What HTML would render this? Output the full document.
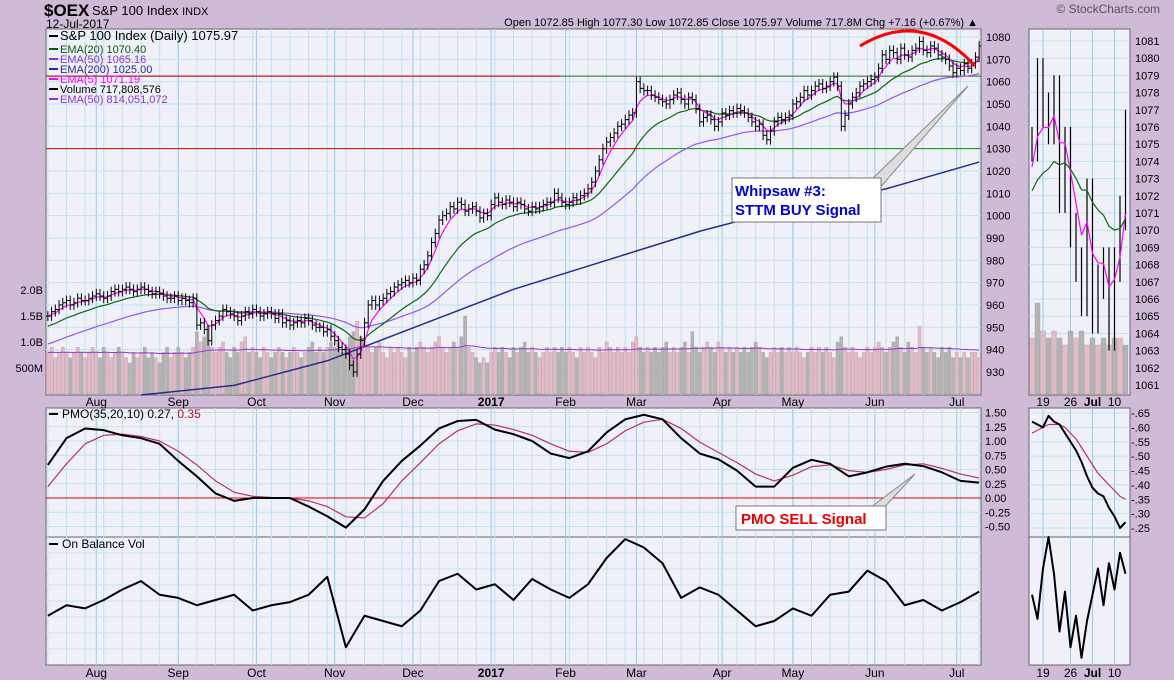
<!DOCTYPE html>
<html><head><meta charset="utf-8"><style>
body{margin:0;background:#cfbad8;font-family:"Liberation Sans",sans-serif}
svg{display:block}
text{font-family:"Liberation Sans",sans-serif}
</style></head><body>
<svg id="c" width="1174" height="680" xmlns="http://www.w3.org/2000/svg">
<rect width="1174" height="680" fill="#cfbad8"/>
<text x="44" y="16" font-size="17" font-weight="bold" fill="#000">$OEX</text>
<text x="92" y="15" font-size="13" fill="#000">S&amp;P 100 Index <tspan font-size="11">INDX</tspan></text>
<text x="46" y="28" font-size="12">12-Jul-2017</text>
<text x="1160" y="13" font-size="12" fill="#555" text-anchor="end">© StockCharts.com</text>
<text x="978" y="26" font-size="11" text-anchor="end">Open 1072.85  High 1077.30  Low 1072.85  Close 1075.97  Volume 717.8M  Chg +7.16 (+0.67%) ▲</text>
<g id="g"></g>
</svg>
<script>
const closes=[955,957,958,960,961,962,960,961,963,962,962,963,964,
965,964,963,964,966,967,966,967,968,967,966,967,968,967,966,965,966,965,964,963,963,964,
962,963,962,961,963,951,952,949,944,951,953,955,958,957,956,955,953,955,957,956,958,
957,955,956,957,956,954,956,952,953,951,952,953,952,954,953,951,950,950,948,949,946,
944,941,940,938,933,930,938,944,952,960,962,960,962,963,965,966,968,969,970,971,970,
972,971,976,978,982,988,992,998,1000,1001,1004,1003,1006,1005,1002,1003,1004,1002,999,1001,1000,
1005,1008,1006,1005,1007,1006,1004,1006,1005,1003,1002,1004,1003,1004,1005,1006,1006,1010,1008,1006,
1005,1006,1008,1007,1009,1010,1012,1015,1020,1025,1030,1033,1035,1037,1040,1041,1043,1045,1046,
1060,1057,1056,1056,1054,1053,1052,1051,1050,1052,1054,1055,1052,1050,1053,1052,1048,1042,1044,1045,1043,1040,1042,
1046,1045,1047,1046,1048,1047,1046,1044,1042,1040,1041,1036,1034,1038,1042,1044,1043,1044,1045,
1050,1051,1053,1056,1054,1056,1058,1059,1057,1058,1060,1062,1058,1040,1045,1050,1053,1055,1058,1059,1060,1061,
1062,1066,1072,1070,1074,1073,1070,1075,1072,1071,1074,1075,1078,1074,1073,1076,1075,1072,1071,1070,1067,1064,
1066,1065,1068,1066,1068,1071,1076];
const volumes=[8,9,7,8,9,8,7,8,9,8,7,8,9,
8,7,9,8,7,8,9,8,7,6,8,7,8,9,7,8,7,6,8,9,7,8,
9,8,7,8,9,12,10,11,13,9,8,9,10,8,7,9,8,10,11,8,9,
8,7,9,8,7,8,9,8,7,8,9,8,7,8,9,10,8,9,8,9,10,
9,10,8,9,11,12,14,11,10,9,8,9,10,8,7,9,8,9,8,7,9,
8,9,10,9,8,9,10,11,9,8,9,10,9,11,15,9,8,7,6,7,6,
8,9,8,9,8,7,9,8,9,10,8,9,8,7,8,9,8,9,8,9,
8,9,8,7,9,8,9,8,7,9,8,10,9,8,9,8,9,8,10,
11,9,8,9,8,9,8,9,10,8,9,8,9,10,8,12,9,8,9,10,9,8,10,
9,8,9,8,9,8,9,8,9,10,9,8,7,8,9,8,9,8,9,
8,9,8,7,8,9,8,9,8,9,8,7,10,11,9,8,9,8,7,8,9,8,
9,10,9,8,9,10,11,9,8,10,9,8,13,9,8,9,8,7,9,8,9,7,
8,7,8,7,8,8,7];
const ema200Idx=[25,50,75,100,125,150,175,200,225,250];
const ema200Vals=[915,924,935,951,967,980,993,1004,1012,1024];
const pmoVals=[0.58,1.05,1.22,1.19,1.1,1.05,0.95,0.65,0.38,0.08,-0.05,0,0,0,-0.15,-0.32,-0.52,-0.2,0.3,0.65,0.92,1.22,1.35,1.37,1.2,1.12,1.0,0.78,0.7,0.82,1.15,1.38,1.46,1.38,1.05,0.78,0.68,0.48,0.2,0.2,0.53,0.67,0.6,0.38,0.45,0.55,0.6,0.56,0.45,0.3,0.27];
const pmoSig=[0.2,0.6,0.95,1.1,1.12,1.08,1.0,0.82,0.58,0.3,0.1,0.03,0.01,0,-0.05,-0.15,-0.33,-0.35,-0.1,0.3,0.62,0.95,1.18,1.3,1.28,1.2,1.1,0.95,0.82,0.8,0.95,1.18,1.33,1.38,1.22,0.98,0.8,0.62,0.42,0.3,0.4,0.55,0.58,0.48,0.45,0.5,0.58,0.6,0.52,0.42,0.35];
const obvVals=[45,55,52,60,70,78,65,62,55,60,65,50,55,58,65,82,15,45,40,35,50,78,85,70,75,60,80,70,62,75,100,118,110,95,62,72,65,50,35,40,52,45,65,68,88,78,55,60,50,58,68];
const monthLabels=["Aug","Sep","Oct","Nov","Dec","2017","Feb","Mar","Apr","May","Jun","Jul"];
const monthStarts=[13,35,56,77,98,119,139,158,181,200,222,244];
const priceTicks=[930,940,950,960,970,980,990,1000,1010,1020,1030,1040,1050,1060,1070,1080];
const volTicks=[["500M",5],["1.0B",10],["1.5B",15],["2.0B",20]];
const pmoTicks=[-0.5,-0.25,0,0.25,0.5,0.75,1,1.25,1.5];
const rCloses=[1075,1079,1077,1076,1078,1072,1075,1070,1068,1066,1072,1065,1067,1068,1064,1068,1071,1076];
const rPmo=[0.62,0.61,0.60,0.64,0.62,0.61,0.58,0.55,0.52,0.48,0.43,0.39,0.37,0.36,0.32,0.29,0.25,0.27];
const rSig=[0.58,0.59,0.60,0.61,0.61,0.61,0.60,0.58,0.56,0.53,0.50,0.47,0.44,0.42,0.40,0.38,0.36,0.35];
const rObv=[65,42,90,120,85,30,68,15,45,5,40,65,90,55,95,70,105,85];
const rPriceTicks=[1061,1062,1063,1064,1065,1066,1067,1068,1069,1070,1071,1072,1073,1074,1075,1076,1077,1078,1079,1080,1081];
const rPmoTicks=[0.25,0.3,0.35,0.4,0.45,0.5,0.55,0.6,0.65];

const NS="http://www.w3.org/2000/svg",G=document.getElementById('g');
function mk(t,a,p){const e=document.createElementNS(NS,t);for(const k in a)e.setAttribute(k,a[k]);(p||G).appendChild(e);return e;}
const L=46,R=981,N=closes.length,step=(R-L)/N;
const X=i=>L+step*(i+0.5);
const PY=p=>37+(1080-p)*2.233;
const VY=v=>394-v*5.2;
const MY=v=>498-v*57;
const OY=v=>663-v*1.05;
const RX=k=>1032+k*5.5;
const RPY=p=>41+(1081-p)*17.2;
const RMY=v=>413+(0.65-v)*287.5;
// panels
const panels=[[L,29,R,395],[L,408,R,537],[L,537,R,665],[1029,29,1130,395],[1029,408,1130,537],[1029,537,1130,665]];
panels.forEach(p=>{const r=mk('rect',{x:p[0],y:p[1],width:p[2]-p[0],height:p[3]-p[1],fill:'#eff0f8',stroke:'#666'});

});
// vertical grid
for(let i=0;i<N;i+=5){[[29,395],[408,537],[537,665]].forEach(b=>{const l=mk('line',{x1:X(i),x2:X(i),y1:b[0],y2:b[1],stroke:'#bfe3ee','stroke-width':1});

});}
monthStarts.forEach((m,j)=>{[[29,395],[408,537],[537,665]].forEach(b=>{const l=mk('line',{x1:X(m),x2:X(m),y1:b[0],y2:b[1],stroke:'#8fd0e6','stroke-width':1});

});
const t=mk('text',{x:X(m),y:406,'font-size':12,'text-anchor':'middle','font-weight':monthLabels[j]=="2017"?'bold':'normal'});t.textContent=monthLabels[j];


const t2=mk('text',{x:X(m),y:677,'font-size':12,'text-anchor':'middle','font-weight':monthLabels[j]=="2017"?'bold':'normal'});t2.textContent=monthLabels[j];

});
priceTicks.forEach(p=>{const l=mk('line',{x1:L,x2:R,y1:PY(p),y2:PY(p),stroke:'#bfe3ee'});


const t=mk('text',{x:986,y:PY(p)+4,'font-size':11});t.textContent=p;

});
pmoTicks.forEach(v=>{const l=mk('line',{x1:L,x2:R,y1:MY(v),y2:MY(v),stroke:'#bfe3ee'});


const t=mk('text',{x:985,y:MY(v)+4,'font-size':11});t.textContent=(v<0?'':' ')+v.toFixed(2);

});
for(let y=553;y<665;y+=16){const l=mk('line',{x1:L,x2:R,y1:y,y2:y,stroke:'#bfe3ee'});

}
volTicks.forEach(v=>{const t=mk('text',{x:43,y:VY(v[1])+4,'font-size':11,'text-anchor':'end'});t.textContent=v[0];

});
// volume bars
volumes.forEach((v,i)=>{const up=i==0||closes[i]>=closes[i-1];const r=mk('rect',{x:X(i)-step/2+0.3,y:VY(v),width:step-0.6,height:394-VY(v),fill:up?'#e6b8c8':'#b3b3b3',stroke:'#999','stroke-width':0.3});

});
function ema(arr,n,seed){const k=2/(n+1);let e=seed,o=[];arr.forEach(v=>{e=v*k+e*(1-k);o.push(e);});return o;}
function poly(pts,col,w,name){const l=mk('polyline',{points:pts.map(p=>p.join(',')).join(' '),fill:'none',stroke:col,'stroke-width':w,'stroke-linejoin':'round'});

return l;}
poly(ema(volumes,50,8).map((v,i)=>[X(i),VY(v)]),'#9933cc',1,'volume-ema50');
// horizontal lines
poly([[L,PY(1062.5)],[R,PY(1062.5)]],'#2a6a2a',1,'support-line-1062');
poly([[L,PY(1062.5)],[560,PY(1062.5)]],'#e00000',1,'support-line-red');
poly([[L,PY(1030)],[640,PY(1030)]],'#e00000',1,'support-line-1030-red');
poly([[640,PY(1030)],[R,PY(1030)]],'#009900',1,'support-line-1030-green');
poly([[L,MY(0)],[R,MY(0)]],'#e00000',1,'pmo-zero-line');
// EMAs
poly(ema200Idx.map((d,j)=>[X(d),Math.min(395,PY(ema200Vals[j]))]),'#2b2b8c',1.5,'ema200-line');
poly(ema(closes,50,942).map((v,i)=>[X(i),Math.min(395,PY(v))]),'#9955ee',1.2,'ema50-line');
poly(ema(closes,20,950).map((v,i)=>[X(i),PY(v)]),'#0a6a0a',1.2,'ema20-line');
poly(ema(closes,5,955).map((v,i)=>[X(i),PY(v)]),'#ff00ff',1.2,'ema5-line');
// price bars
closes.forEach((c,i)=>{const o=i?closes[i-1]:c;const hi=Math.max(o,c)+2.2,lo=Math.min(o,c)-2.2;
const g=mk('g',{stroke:'#000','stroke-width':1});


mk('line',{x1:X(i),x2:X(i),y1:PY(hi),y2:PY(lo)},g);mk('line',{x1:X(i)-2,x2:X(i),y1:PY(o),y2:PY(o)},g);mk('line',{x1:X(i),x2:X(i)+2,y1:PY(c),y2:PY(c)},g);});
// PMO
const PX=j=>X(j*5);
poly(pmoSig.map((v,j)=>[PX(j),MY(v)]),'#c0305a',1.2,'pmo-signal-line');
poly(pmoVals.map((v,j)=>[PX(j),MY(v)]),'#000',2,'pmo-line');
poly(obvVals.map((v,j)=>[PX(j),OY(v)]),'#000',2,'obv-line');
// right panels
rPriceTicks.forEach(p=>{const l=mk('line',{x1:1029,x2:1130,y1:RPY(p),y2:RPY(p),stroke:'#bfe3ee'});


const t=mk('text',{x:1135,y:RPY(p)+4,'font-size':11});t.textContent=p;

});
rPmoTicks.forEach(v=>{const l=mk('line',{x1:1029,x2:1130,y1:RMY(v),y2:RMY(v),stroke:'#bfe3ee'});


const t=mk('text',{x:1131,y:RMY(v)+4,'font-size':11});t.textContent='-'+v.toFixed(2).slice(1);

});
[["19",2],["26",7],["Jul",11],["10",15]].forEach(d=>{[[29,395],[408,537],[537,665]].forEach(b=>{const l=mk('line',{x1:RX(d[1]),x2:RX(d[1]),y1:b[0],y2:b[1],stroke:'#8fd0e6'});

});
[406,677].forEach(y=>{const t=mk('text',{x:RX(d[1]),y:y,'font-size':12,'text-anchor':'middle','font-weight':d[0]=="Jul"?'bold':'normal'});t.textContent=d[0];

});});
const rv=volumes.slice(-18);
rv.forEach((v,k)=>{const r=mk('rect',{x:RX(k)-2.5,y:394-v*7,width:5,height:v*7,fill:k%2?'#b3b3b3':'#e6b8c8',stroke:'#999','stroke-width':0.3});

});
rCloses.forEach((c,k)=>{const o=k?rCloses[k-1]:c;const l=mk('line',{x1:RX(k),x2:RX(k),y1:Math.max(35,RPY(Math.max(o,c)+1)),y2:Math.min(394,RPY(Math.min(o,c)-1)),stroke:'#000','stroke-width':1.2});

});
const clipR=v=>Math.max(30,Math.min(394,v));
poly(ema(rCloses,5,1073).map((v,k)=>[RX(k),clipR(RPY(v))]),'#ff00ff',1.2,'right-ema5');
poly(ema(rCloses,20,1072).map((v,k)=>[RX(k),clipR(RPY(v))]),'#0a6a0a',1.2,'right-ema20');
poly(rSig.map((v,k)=>[RX(k),RMY(v)]),'#c0305a',1.2,'right-pmo-signal');
poly(rPmo.map((v,k)=>[RX(k),RMY(v)]),'#000',2,'right-pmo');
poly(rObv.map((v,k)=>[RX(k),OY(v)]),'#000',2,'right-obv');
// legends
const lg=[["S&P 100 Index (Daily) 1075.97","#000",13],["EMA(20) 1070.40","#0a5a0a",11],["EMA(50) 1065.16","#8833dd",11],["EMA(200) 1025.00","#2b2b8c",11],["EMA(5) 1071.19","#ff00ff",11],["Volume 717,808,576","#000",11],["EMA(50) 814,051,072","#8833dd",11]];
let ly=40;lg.forEach((l,i)=>{const t=mk('text',{x:60,y:ly,'font-size':l[2],fill:l[1]});t.textContent=l[0];


mk('rect',{x:49,y:ly-5,width:9,height:2,fill:l[1]});ly+=(i==0?13:10);});
const pt=mk('text',{x:62,y:418,'font-size':12});pt.innerHTML='PMO(35,20,10) 0.27, <tspan fill="#b01030">0.35</tspan>';


mk('rect',{x:49,y:413,width:9,height:2,fill:'#000'});
const ot=mk('text',{x:62,y:548,'font-size':12});ot.textContent='On Balance Vol';


mk('rect',{x:49,y:543,width:9,height:2,fill:'#000'});
// annotations
const arc=mk('path',{d:'M860,46 Q922,8 975,66',fill:'none',stroke:'#ff0000','stroke-width':3});


const c1=mk('path',{d:'M868,183 L968,86 L878,190 Z',fill:'#ddd',stroke:'#888'});


const b1=mk('rect',{x:732,y:178,width:149,height:44,fill:'#fff',stroke:'#777'});


const w1=mk('text',{x:735,y:196,'font-size':15,'font-weight':'bold',fill:'#0000dd'});w1.textContent='Whipsaw #3:';


const w2=mk('text',{x:735,y:215,'font-size':15,'font-weight':'bold',fill:'#0000dd'});w2.textContent='STTM BUY Signal';


const c2=mk('path',{d:'M870,508 L915,474 L880,512 Z',fill:'#ddd',stroke:'#888'});


const b2=mk('rect',{x:736,y:506,width:150,height:24,fill:'#fff',stroke:'#777'});


const s2=mk('text',{x:741,y:524,'font-size':15,'font-weight':'bold',fill:'#ee0000'});s2.textContent='PMO SELL Signal';


</script>
</body></html>
